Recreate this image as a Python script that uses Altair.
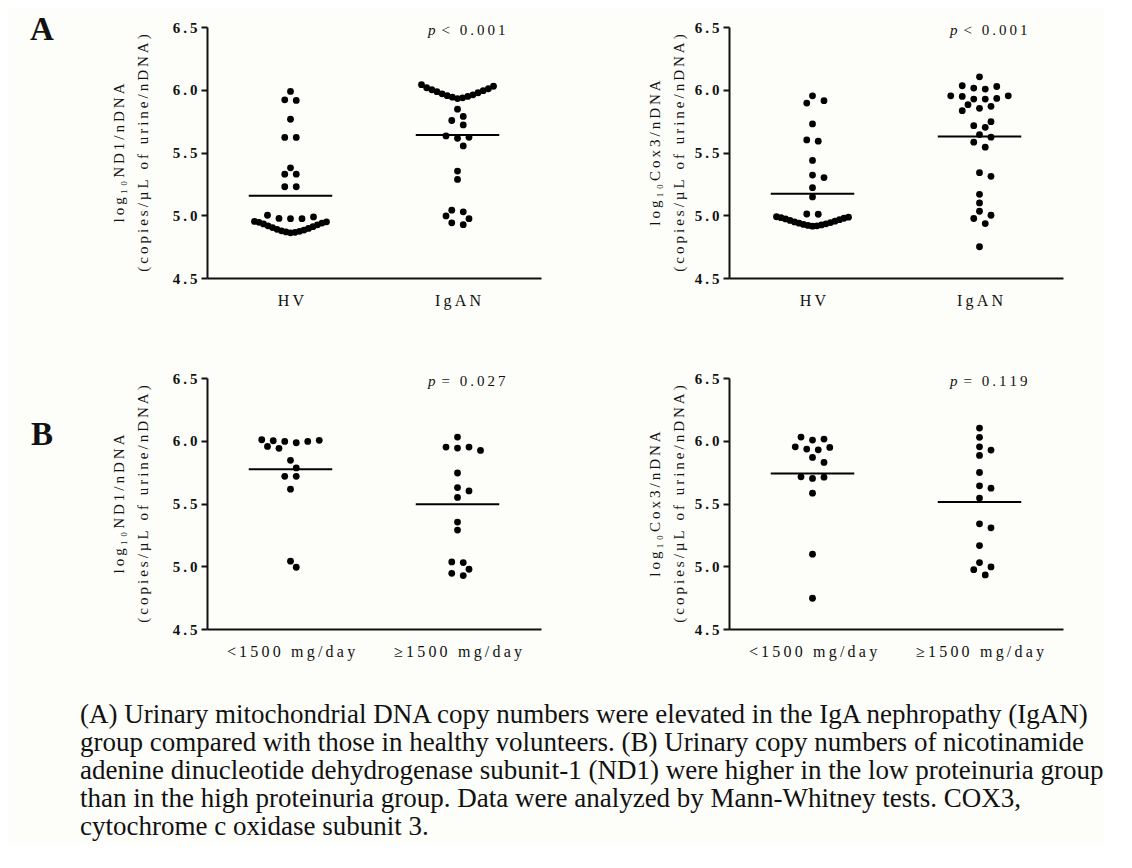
import altair as alt
import pandas as pd

FONT = "Liberation Serif"
THIN = "\u2009"
INK = "#111111"
BG = "#fdfdf9"

# ---------------- data ----------------
A_ND1_HV = [4.860, 4.864, 4.867, 4.872, 4.876, 4.882, 4.888, 4.895, 4.902, 4.909,
            4.916, 4.924, 4.931, 4.938, 4.944, 4.948, 4.951, 4.973, 4.973, 4.975,
            4.987, 5.000, 5.227, 5.227, 5.327, 5.327, 5.378, 5.620, 5.620, 5.765,
            5.915, 5.920, 5.987]
A_ND1_IGAN = [4.925, 4.940, 4.973, 4.995, 5.027, 5.040, 5.285, 5.352, 5.552, 5.613,
              5.621, 5.632, 5.720, 5.755, 5.787, 5.845, 5.930, 5.936, 5.941, 5.947,
              5.953, 5.960, 5.968, 5.976, 5.985, 5.993, 6.000, 6.008, 6.016, 6.028,
              6.040]
A_COX3_HV = [4.913, 4.916, 4.919, 4.923, 4.927, 4.932, 4.937, 4.942, 4.947, 4.953,
             4.959, 4.965, 4.971, 4.976, 4.981, 4.985, 4.988, 5.008, 5.010, 5.146,
             5.220, 5.300, 5.320, 5.437, 5.590, 5.600, 5.728, 5.894, 5.913, 5.952]
A_COX3_IGAN = [4.749, 4.934, 4.974, 5.000, 5.032, 5.098, 5.167, 5.310, 5.339, 5.542,
               5.582, 5.622, 5.643, 5.701, 5.714, 5.746, 5.833, 5.852, 5.868, 5.881,
               5.926, 5.926, 5.931, 5.947, 5.952, 5.952, 6.005, 6.013, 6.026, 6.032,
               6.103]
B_ND1_LOW = [4.992, 5.040, 5.614, 5.717, 5.717, 5.783, 5.844, 5.940, 5.955, 5.984,
             5.995, 5.995, 6.000, 6.003, 6.008]
B_ND1_HIGH = [4.926, 4.944, 4.976, 5.029, 5.034, 5.288, 5.352, 5.548, 5.600, 5.627,
              5.743, 5.923, 5.942, 5.950, 5.950, 6.029]
B_COX3_LOW = [4.745, 5.096, 5.582, 5.700, 5.710, 5.713, 5.827, 5.867, 5.928, 5.934,
              5.947, 5.952, 6.005, 6.013, 6.029]
B_COX3_HIGH = [4.931, 4.973, 4.995, 5.029, 5.165, 5.306, 5.338, 5.543, 5.622, 5.641,
               5.747, 5.883, 5.926, 5.952, 6.027, 6.101]

MED_A_ND1 = [5.155, 5.640]
MED_A_COX3 = [5.172, 5.627]
MED_B_ND1 = [5.772, 5.495]
MED_B_COX3 = [5.739, 5.511]

CATS_A = ["HV", "IgAN"]
CATS_B = ["<1500 mg/day", "\u22651500 mg/day"]
P_TEXTS = ["< 0.001", "< 0.001", "= 0.027", "= 0.119"]
GENES = ["ND1", "Cox3", "ND1", "Cox3"]
PANEL_LETTERS = ["A", "B"]

TICK_VALUES = [4.5, 5.0, 5.5, 6.0, 6.5]
TICK_LABELS = ["4.5", "5.0", "5.5", "6.0", "6.5"]

CAPTION = [
    "(A) Urinary mitochondrial DNA copy numbers were elevated in the IgA nephropathy (IgAN)",
    "group compared with those in healthy volunteers. (B) Urinary copy numbers of nicotinamide",
    "adenine dinucleotide dehydrogenase subunit-1 (ND1) were higher in the low proteinuria group",
    "than in the high proteinuria group. Data were analyzed by Mann-Whitney tests. COX3,",
    "cytochrome c oxidase subunit 3.",
]

# ---------------- layout constants ----------------
W, H = 334, 251
PX_X = W / 2.0   # px per category unit (x domain 0.5 .. 2.5)
PX_Y = H / 2.0   # px per y unit (y domain 4.5 .. 6.5)


def spaced(s):
    return THIN.join(s)


def swarm(vals, chain=0.019, step=11.5, wmax=72.0, coll=8.0):
    """GraphPad-like scatter: near-equal values form rows, smallest in the centre."""
    idx = sorted(range(len(vals)), key=lambda i: vals[i])
    rows = []
    for i in idx:
        if rows and vals[i] - vals[rows[-1][-1]] < chain:
            rows[-1].append(i)
        else:
            rows.append([i])
    off = {}
    placed = []
    for row in sorted(rows, key=lambda r: (-len(r), -vals[r[0]])):
        n = len(row)
        sp = step if n == 1 else min(step, wmax / (n - 1))
        slots = sorted([(j - (n - 1) / 2.0) * sp for j in range(n)],
                       key=lambda s: (abs(s), -s))
        base = list(zip(row, slots))
        shifts = [0.0]
        for k in range(1, 14):
            shifts += [k * step / 2.0, -k * step / 2.0]
        chosen = 0.0
        for sh in shifts:
            ok = True
            for i, bx in base:
                for px, pv in placed:
                    if (bx + sh - px) ** 2 + ((vals[i] - pv) * PX_Y) ** 2 < coll ** 2:
                        ok = False
                        break
                if not ok:
                    break
            if ok:
                chosen = sh
                break
        for i, bx in base:
            off[i] = bx + chosen
            placed.append((bx + chosen, vals[i]))
    return [off[i] for i in range(len(vals))]


def y_label_expr():
    expr = "''"
    for v, lab in reversed(list(zip(TICK_VALUES, TICK_LABELS))):
        expr = f"abs(datum.value - {v}) < 0.01 ? '{spaced(lab)}' : ({expr})"
    return expr


def panel(groups, medians, cats, gene, ptext, letter=None, title_pad=12):
    rows = []
    for gi, vals in enumerate(groups):
        offs = swarm(vals)
        for v, o in zip(vals, offs):
            rows.append({"x": gi + 1 + o / PX_X, "y": v})
    df = pd.DataFrame(rows)
    med = pd.DataFrame({"x1": [1 - 0.25, 2 - 0.25], "x2": [1 + 0.25, 2 + 0.25], "y": medians})

    xs = alt.Scale(domain=[0.5, 2.5], nice=False, zero=False)
    ys = alt.Scale(domain=[4.5, 6.5], nice=False, zero=False)

    x_axis = alt.Axis(
        values=[1, 2], ticks=False, grid=False, title=None,
        labelExpr=f"datum.value == 1 ? '{spaced(cats[0])}' : '{spaced(cats[1])}'",
        labelFont=FONT, labelFontSize=16, labelColor=INK, labelPadding=14,
        domainColor=INK, domainWidth=2, labelAngle=0,
    )
    y_axis = alt.Axis(
        values=TICK_VALUES, grid=False, ticks=True, tickSize=6, tickWidth=2, tickColor=INK,
        labelExpr=y_label_expr(), labelFont=FONT, labelFontSize=15, labelFontWeight="bold",
        labelColor=INK, labelPadding=4, domainColor=INK, domainWidth=2,
        title=[spaced("log\u2081\u2080" + gene + "/nDNA"), spaced("(copies/\u00b5L of urine/nDNA)")],
        titleFont=FONT, titleFontSize=15, titleFontWeight="normal", titleColor=INK,
        titleLineHeight=24, titlePadding=title_pad,
    )

    pts = alt.Chart(df).mark_circle(size=46, color="black", opacity=1).encode(
        x=alt.X("x:Q", scale=xs, axis=x_axis),
        y=alt.Y("y:Q", scale=ys, axis=y_axis),
    )
    rules = alt.Chart(med).mark_rule(color="black", strokeWidth=2).encode(
        x=alt.X("x1:Q", scale=xs), x2="x2:Q", y=alt.Y("y:Q", scale=ys)
    )
    pdf = pd.DataFrame({"x": [2], "y": [6.5], "p": ["p"], "rest": [spaced(ptext)]})
    p1 = alt.Chart(pdf).mark_text(font=FONT, fontSize=15, fontStyle="italic", color=INK,
                                   align="right", baseline="alphabetic", dx=-22, dy=8).encode(
        x=alt.X("x:Q", scale=xs), y=alt.Y("y:Q", scale=ys), text="p:N")
    p2 = alt.Chart(pdf).mark_text(font=FONT, fontSize=15, color=INK,
                                   align="left", baseline="alphabetic", dx=-16, dy=8).encode(
        x=alt.X("x:Q", scale=xs), y=alt.Y("y:Q", scale=ys), text="rest:N")
    layers = [pts, rules, p1, p2]
    if letter is not None:
        ldf = pd.DataFrame({"t": [letter]})
        lt = alt.Chart(ldf).mark_text(font=FONT, fontSize=33, fontWeight="bold", color=INK,
                                      align="center", baseline="alphabetic").encode(
            text="t:N", x=alt.value(-165), y=alt.value(13 if letter == "A" else 67))
        layers.append(lt)
    return alt.layer(*layers).properties(width=W, height=H)


pA1 = panel([A_ND1_HV, A_ND1_IGAN], MED_A_ND1, CATS_A, GENES[0], P_TEXTS[0],
            letter=PANEL_LETTERS[0], title_pad=22)
pA2 = panel([A_COX3_HV, A_COX3_IGAN], MED_A_COX3, CATS_A, GENES[1], P_TEXTS[1], title_pad=8)
pB1 = panel([B_ND1_LOW, B_ND1_HIGH], MED_B_ND1, CATS_B, GENES[2], P_TEXTS[2],
            letter=PANEL_LETTERS[1], title_pad=22)
pB2 = panel([B_COX3_LOW, B_COX3_HIGH], MED_B_COX3, CATS_B, GENES[3], P_TEXTS[3], title_pad=8)

row1 = alt.hconcat(pA1, pA2, spacing=106)
row2 = alt.hconcat(pB1, pB2, spacing=106)

chart = alt.vconcat(row1, row2, spacing=63).properties(
    title=alt.TitleParams(
        text=CAPTION, orient="bottom", anchor="start", font=FONT, fontSize=27,
        fontWeight="normal", color=INK, lineHeight=28, offset=43, dx=50,
    ),
    padding={"left": 22, "top": 6, "right": 0, "bottom": 4},
    background=BG,
).configure_view(strokeWidth=0)

chart.save("out.html", embed_options={"renderer": "svg", "actions": False})
